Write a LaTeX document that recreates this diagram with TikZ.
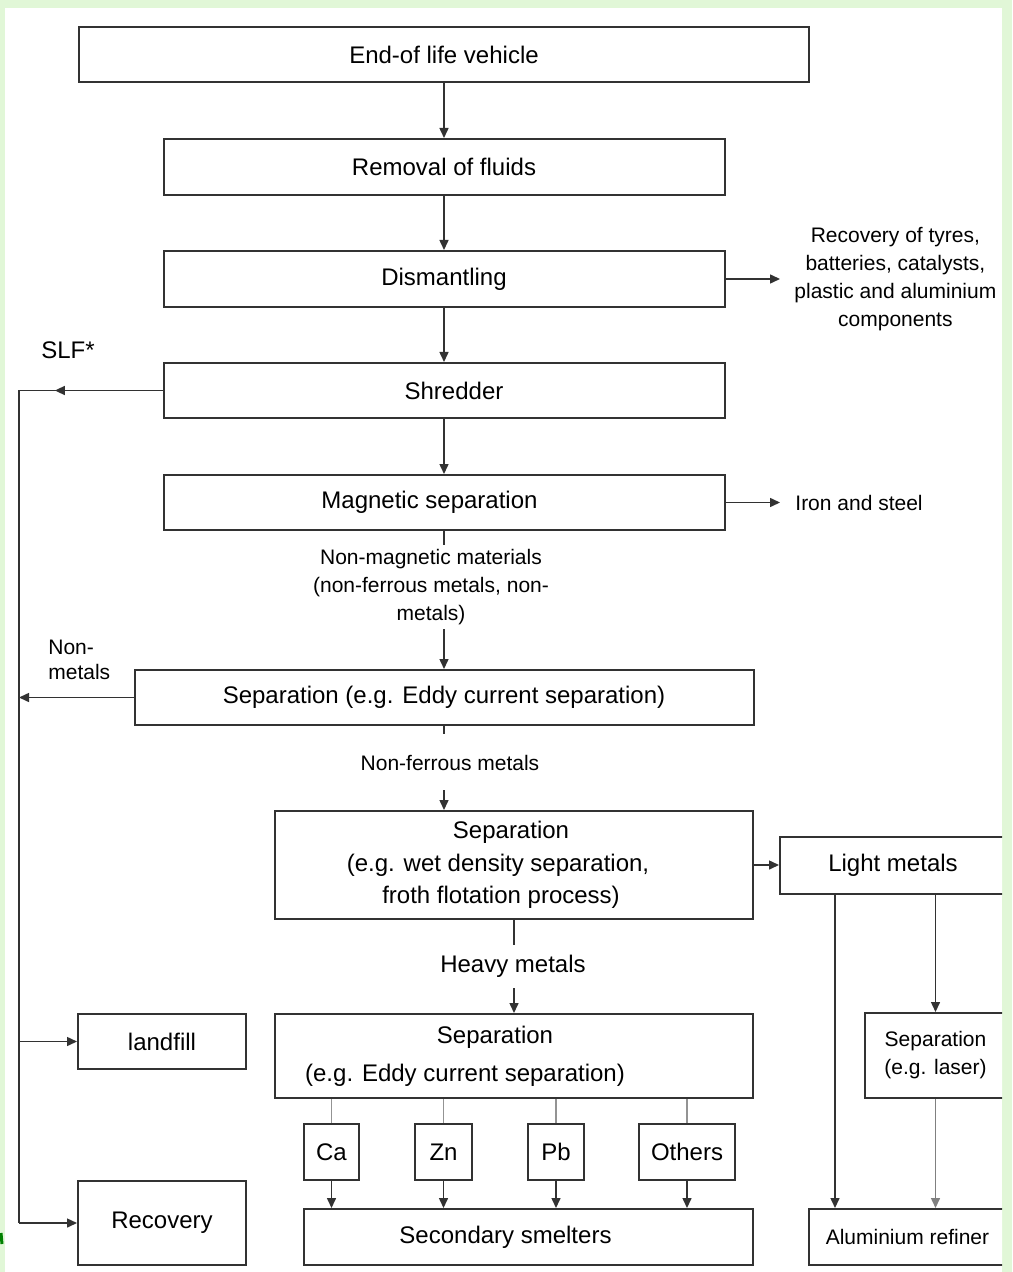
\documentclass[tikz,border=0pt]{standalone}
\usepackage{fontspec}
\setmainfont{Liberation Sans}
\usetikzlibrary{arrows.meta,positioning,decorations.markings}
\definecolor{framegreen}{RGB}{225,247,215}
\definecolor{ink}{RGB}{50,50,50}
\tikzset{
  % box styles
  procbox/.style={draw=ink,line width=1pt,fill=white,inner sep=0pt,align=center,
    font=\fontsize{12}{14.4}\selectfont},
  % free text beside the connectors
  bigtxt/.style={inner sep=0pt,align=center,font=\fontsize{12}{14.4}\selectfont},
  smalltxt/.style={inner sep=0pt,align=center,font=\fontsize{10.5}{14}\selectfont},
  % connectors
  plain/.style={draw=ink,line width=0.75pt},
  flow/.style={plain,-{Triangle[length=5pt,width=4.5pt]}},
  branch/.style={draw=gray!85,line width=0.6pt},
  midarrow/.style={postaction={decorate,decoration={markings,mark=at position #1 with {\arrow{Triangle[length=5pt,width=4.5pt]}}}}},
}
\begin{document}
\begin{tikzpicture}[x=0.5pt,y=-0.5pt]
  \useasboundingbox (0,0) rectangle (1012,1272);
  \fill[framegreen] (0,0) rectangle (1012,1272);
  \fill[white] (5,8) rectangle (1002,1272);
  \draw[green!50!black,line width=1.5pt] (1,1233) -- (2,1244);
  \begin{scope}
  \clip (5,8) rectangle (1002,1272);
  % main column
  \node[procbox,minimum width=365pt,minimum height=27.5pt] (evh) at (444,54.5) {End-of life vehicle};
  \node[procbox,minimum width=280.5pt,minimum height=28pt] (fluids) at (444,167) {Removal of fluids};
  \node[procbox,minimum width=280.5pt,minimum height=28pt] (dism) at (444,279) {Dismantling};
  \node[procbox,minimum width=280.5pt,minimum height=27.5pt] (shred) at (444,390.5) {\hspace*{10pt}Shredder};
  \node[procbox,minimum width=280.5pt,minimum height=27.5pt] (magsep) at (444,502.5) {\hspace*{-14.5pt}Magnetic separation};
  \node[smalltxt,inner ysep=2pt] (nonmag) at (431,587) {Non-magnetic materials\\(non-ferrous metals, non-\\metals)};
  \node[procbox,minimum width=309.5pt,minimum height=27.5pt] (eddy) at (444,697.5) {Separation (e.g. Eddy current separation)};
  \node[smalltxt,inner ysep=9.5pt] (nonfer) at (450,763) {Non-ferrous metals};
  \node[procbox,minimum width=239pt,minimum height=54pt,font=\fontsize{12}{16.25}\selectfont] (wetsep) at (514,865)
    {\hspace*{-3pt}Separation\\\hspace*{-16pt}(e.g. wet density separation,\\\hspace*{-13pt}froth flotation process)};
  \node[bigtxt,inner ysep=5pt] (heavy) at (513,966.5) {Heavy metals};
  \node[procbox,minimum width=239pt,minimum height=42pt,font=\fontsize{12}{19}\selectfont] (heavysep) at (514,1056)
    {\hspace*{-19pt}Separation\\\hspace*{-49pt}(e.g. Eddy current separation)};
  \node[procbox,minimum width=27.5pt,minimum height=28pt] (ca) at (331.5,1152) {Ca};
  \node[procbox,minimum width=28.5pt,minimum height=28pt] (zn) at (443.5,1152) {Zn};
  \node[procbox,minimum width=28pt,minimum height=28pt] (pb) at (556,1152) {Pb};
  \node[procbox,minimum width=48pt,minimum height=28pt] (others) at (687,1152) {Others};
  \node[procbox,minimum width=224.5pt,minimum height=28pt] (smelt) at (528.5,1237) {\hspace*{-23pt}Secondary smelters};
  % right column
  \node[smalltxt,anchor=west,inner xsep=7pt] (parts) at (780,279)
    {Recovery of tyres,\\batteries, catalysts,\\plastic and aluminium\\components};
  \node[smalltxt,anchor=west,inner xsep=7.5pt] (iron) at (780,502.5) {Iron and steel};
  \node[procbox,minimum width=113pt,minimum height=28.5pt] (light) at (893,865) {Light metals};
  \node[procbox,minimum width=70.5pt,minimum height=42.5pt,font=\fontsize{10.5}{14}\selectfont] (lasersep) at (935.5,1055.5)
    {Separation\\(e.g. laser)};
  \node[procbox,minimum width=98.5pt,minimum height=28pt,font=\fontsize{10.5}{14}\selectfont] (alu) at (907.5,1237) {Aluminium refiner};
  % left column
  \node[bigtxt] (slf) at (68,350) {SLF*};
  \node[smalltxt,align=left,anchor=west,font=\fontsize{10.5}{12.5}\selectfont] (nonmet) at (48,660) {Non-\\metals};
  \node[procbox,minimum width=84pt,minimum height=27.5pt] (landfill) at (162,1041.5) {landfill};
  \node[procbox,minimum width=84pt,minimum height=42pt] (recov) at (162,1223) {Recovery};
  \coordinate (trunktop) at (19,390.5);
  \coordinate (trunkbot) at (19,1223);
  % connectors
  \draw[flow] (evh) -- (fluids);
  \draw[flow] (fluids) -- (dism);
  \draw[flow] (dism) -- (shred);
  \draw[flow] (shred) -- (magsep);
  \draw[flow] (dism.east) -- (parts.west);
  \draw[flow] (magsep.east) -- (iron.west);
  \draw[plain] (magsep.south) -- (magsep.south |- nonmag.north);
  \draw[flow] (eddy.north |- nonmag.south) -- (eddy.north);
  \draw[plain] (eddy.south) -- ([yshift=-4pt]eddy.south);
  \draw[flow] (eddy.south |- nonfer.south) -- (eddy.south |- wetsep.north);
  \draw[flow] (wetsep.east) -- (light.west);
  \draw[plain] (wetsep.south) -- (wetsep.south |- heavy.north);
  \draw[flow] (heavysep.north |- heavy.south) -- (heavysep.north);
  \foreach \m in {ca,zn,pb,others}{
    \draw[branch] (\m.north |- heavysep.south) -- (\m.north);
    \draw[flow] (\m.south) -- (\m.south |- smelt.north);
  }
  \draw[flow] ([xshift=28pt]light.south west) -- ([xshift=28pt]light.south west |- alu.north);
  \draw[flow] (lasersep.north |- light.south) -- (lasersep.north);
  \draw[flow,draw=gray] (lasersep.south) -- (lasersep.south |- alu.north);
  \draw[plain,midarrow=0.75] (shred.west) -- (trunktop);
  \draw[plain] (trunktop) -- (trunkbot);
  \draw[flow] (eddy.west) -- (eddy.west -| trunktop);
  \draw[flow] (landfill.west -| trunktop) -- (landfill.west);
  \draw[flow] (trunkbot) -- (recov.west);
  \end{scope}
\end{tikzpicture}
\end{document}
